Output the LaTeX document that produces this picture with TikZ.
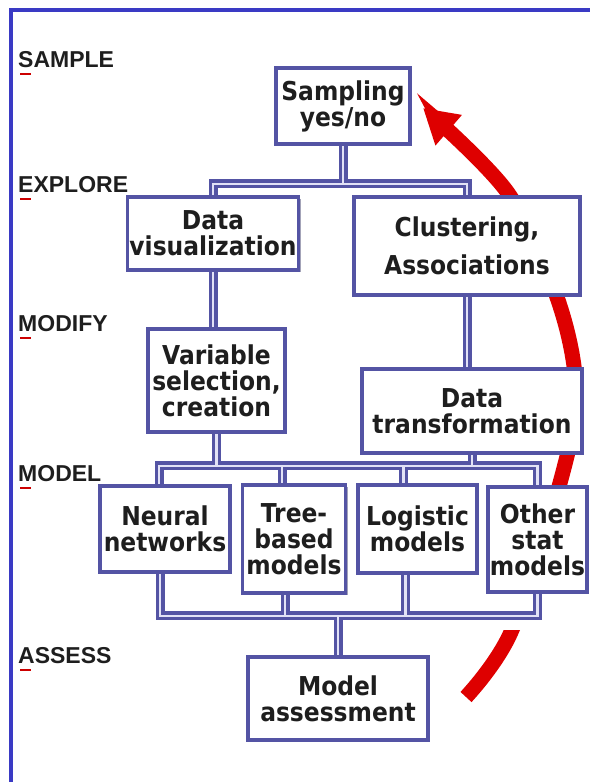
\documentclass[tikz,border=0pt]{standalone}
\usepackage{fontspec}
\setmainfont{DejaVu Sans}[FakeStretch=0.9]
\newfontfamily\stagefont{Liberation Sans}
\usetikzlibrary{arrows.meta,shadows,backgrounds}
\definecolor{pipeblue}{RGB}{84,84,164}
\definecolor{pipeinner}{RGB}{226,226,246}
\definecolor{framebl}{RGB}{58,58,196}
\definecolor{arcred}{RGB}{222,0,0}
\definecolor{txt}{RGB}{30,30,30}

\begin{document}
\begin{tikzpicture}[x=1pt,y=1pt,
	box/.style={draw=pipeblue, line width=3.5pt, fill=white, align=center, inner sep=2pt,
		font=\fontsize{26}{26}\selectfont\bfseries, text=txt,
		drop shadow={shadow xshift=2pt, shadow yshift=-2pt, fill=pipeblue!60!black, opacity=.45}},
	pipe/.style={draw=pipeblue, line width=9pt, postaction={draw=pipeinner, line width=2.5pt}},
	stage/.style={anchor=base west, inner sep=0pt, font=\stagefont\fontsize{23}{23}\selectfont\bfseries, text=txt},
	spell/.style={draw=red!80!black, line width=2.5pt}]
		\useasboundingbox (0,0) rectangle (590,782);
		\draw [framebl, line width=3.5pt] (11,0) -- (11,772) -- (590,772);
		
		% stages on the left
		\node [stage] (lsample) at (18,714) {SAMPLE};
		\node [stage] (lexplore) at (18,589) {EXPLORE};
		\node [stage] (lmodify) at (18,450) {MODIFY};
		\node [stage] (lmodel) at (18,300) {MODEL};
		\node [stage] (lassess) at (18,118) {ASSESS};
		\foreach \l in {lsample,lexplore,lmodify,lmodel,lassess}
			\draw [spell] ([shift={(2,-6)}]\l.base west) -- ++(11,0);
		
		% boxes
		\node [box, minimum width=134pt, minimum height=76pt] (samp) at (343,676) {Sampling\\yes/no};
		\node [box, minimum width=170pt, minimum height=73pt] (vis) at (213,548.5) {Data\\visualization};
		\node [box, minimum width=226pt, minimum height=98pt] (clus) at (467,536) {Clustering,\\[12pt]Associations};
		\node [box, minimum width=137pt, minimum height=103pt] (var) at (216.5,401.5) {Variable\\selection,\\creation};
		\node [box, minimum width=220pt, minimum height=84pt] (trans) at (472,371) {Data\\transformation};
		\node [box, minimum width=130pt, minimum height=86pt] (neural) at (165,253) {Neural\\networks};
		\node [box, minimum width=103pt, minimum height=108pt] (tree) at (294,243) {Tree-\\based\\models};
		\node [box, minimum width=119pt, minimum height=88pt] (logit) at (417.5,253) {Logistic\\models};
		\node [box, minimum width=99pt, minimum height=105pt] (other) at (537.5,242.5) {Other\\stat\\models};
		\node [box, minimum width=180pt, minimum height=83pt] (assess) at (338,83.5) {Model\\assessment};
		
		\coordinate (sbar) at (343,598);
		\coordinate (mbar) at (0,316);
		\coordinate (bbar) at (0,166);
		
		\begin{scope}[on background layer]
		% red cycle arrow behind the boxes
		\draw [arcred, line width=15pt, -{Triangle[length=34pt, width=38pt]}]
			plot [smooth, tension=0.55] coordinates {(466,85) (511,150) (560,299) (576,390) (558,482) (508,589) (423,674)};
		\fill [white] (485,152) rectangle (560,190);
		
		\draw [pipe] (vis.north) |- (sbar) -| (clus.north) (samp.south) -- (sbar);
		\draw [pipe] (vis.south) -- (vis.south |- var.north) (clus.south) -- (clus.south |- trans.north);
		\draw [pipe] ([xshift=-6pt]neural.north) |- (other.north |- mbar) -- (other.north)
			([xshift=-12pt]tree.north) -- ([xshift=-12pt]tree.north |- mbar)
			([xshift=-14pt]logit.north) -- ([xshift=-14pt]logit.north |- mbar)
			(var.south) -- (var.south |- mbar)
			(trans.south) -- (trans.south |- mbar);
		\draw [pipe] ([xshift=-5pt]neural.south) |- (other.south |- bbar) -- (other.south)
			([xshift=-9pt]tree.south) -- ([xshift=-9pt]tree.south |- bbar)
			([xshift=-12pt]logit.south) -- ([xshift=-12pt]logit.south |- bbar)
			(assess.north) -- (assess.north |- bbar);
		\end{scope}
		
		\end{tikzpicture}
\end{document}
